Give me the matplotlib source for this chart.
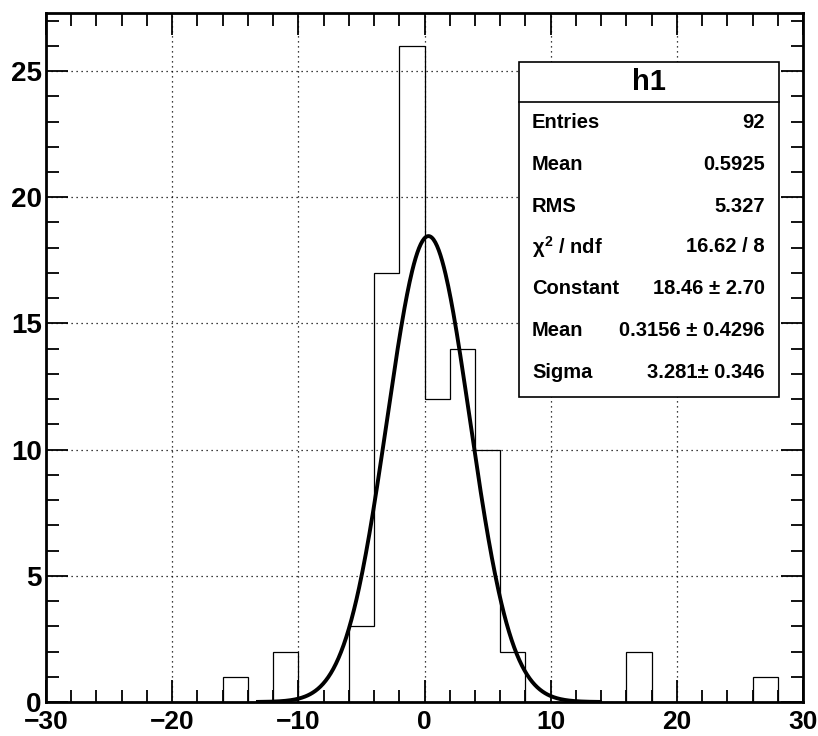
import numpy as np
import matplotlib
matplotlib.use("Agg")
import matplotlib.pyplot as plt
from matplotlib.font_manager import fontManager

# histogram h1: 30 bins of width 2 from -30 to 30
bin_lo, bin_hi, n_bins = -30, 30, 30
counts = [0, 0, 0, 0, 0, 0, 0, 1, 0, 2,
          0, 0, 3, 17, 26, 12, 14, 10, 2, 0,
          0, 0, 0, 2, 0, 0, 0, 0, 1, 0]

# gaus fit
fit_const, fit_mean, fit_sigma = 18.46, 0.3156, 3.281
fit_range = (-13.2, 13.9)

stat_labels = ["Entries", "Mean", "RMS", r"$\chi^{2}$ / ndf", "Constant", "Mean", "Sigma"]
stat_values = ["92", "0.5925", "5.327", "16.62 / 8", "18.46 \u00b1 2.70",
               "0.3156 \u00b1 0.4296", "3.281\u00b1 0.346"]

names = {f.name for f in fontManager.ttflist}
narrow = "Liberation Sans Narrow" if "Liberation Sans Narrow" in names else "Liberation Sans"

plt.rcParams['font.family'] = ['Liberation Sans', 'DejaVu Sans']
plt.rcParams['font.weight'] = 'bold'
plt.rcParams['mathtext.fontset'] = 'custom'
plt.rcParams['mathtext.rm'] = narrow + ':bold'
plt.rcParams['mathtext.it'] = narrow + ':bold'
plt.rcParams['mathtext.bf'] = narrow + ':bold'

fig = plt.figure(figsize=(8.18, 7.36), dpi=100)
ax = fig.add_axes([46 / 818, 1 - 702 / 736, (803 - 46) / 818, (702 - 13) / 736])

edges = np.linspace(bin_lo, bin_hi, n_bins + 1)
ax.stairs(counts, edges, color='black', lw=0.9, baseline=0)

xf = np.linspace(fit_range[0], fit_range[1], 400)
yf = fit_const * np.exp(-0.5 * ((xf - fit_mean) / fit_sigma) ** 2)
ax.plot(xf, yf, color='black', lw=2.8, zorder=3)

ax.set_xlim(-30, 30)
ax.set_ylim(0, 27.3)
ax.set_xticks([-30, -20, -10, 0, 10, 20, 30])
ax.set_xticks(np.arange(-30, 31, 2), minor=True)
ax.set_yticks([0, 5, 10, 15, 20, 25])
ax.set_yticks(np.arange(0, 28, 1), minor=True)
ax.grid(True, which='major', color='black', linestyle=(0, (1, 3)), lw=0.9)

ax.tick_params(which='both', direction='in', top=True, right=True, width=1.3, labelsize=20)
ax.tick_params(which='major', length=16)
ax.tick_params(which='minor', length=9)
ax.tick_params(axis='x', pad=6, labelsize=19)
ax.tick_params(axis='y', pad=3)
for lab in ax.get_xticklabels() + ax.get_yticklabels():
    lab.set_fontweight('bold')
for s in ax.spines.values():
    s.set_linewidth(2.0)

# stats box, in figure pixels
W, H = 818, 736
bx0, bx1, by_top, by_sep, by_bot = 519, 779, 62, 102, 397
box = plt.Rectangle((bx0 / W, 1 - by_bot / H), (bx1 - bx0) / W, (by_bot - by_top) / H,
                    transform=fig.transFigure, facecolor='white', edgecolor='black',
                    lw=1.2, zorder=5)
fig.add_artist(box)
fig.add_artist(plt.Line2D([bx0 / W, bx1 / W], [1 - by_sep / H, 1 - by_sep / H],
                          transform=fig.transFigure, color='black', lw=1.2, zorder=6))
fig.text((bx0 + bx1) / 2 / W, 1 - (by_top + by_sep) / 2 / H, "h1", ha='center', va='center',
         fontsize=21, family=[narrow, 'DejaVu Sans'], fontweight='bold', zorder=7)
row_y = [122, 165, 206, 247, 288, 330, 373]
for lab, val, yy in zip(stat_labels, stat_values, row_y):
    fig.text(532 / W, 1 - yy / H, lab, ha='left', va='center', fontsize=14.5,
             family=[narrow, 'DejaVu Sans'], fontweight='bold', zorder=7)
    fig.text(765 / W, 1 - yy / H, val, ha='right', va='center', fontsize=14.5,
             family=[narrow, 'DejaVu Sans'], fontweight='bold', zorder=7)

fig.savefig("out.png", dpi=100)
